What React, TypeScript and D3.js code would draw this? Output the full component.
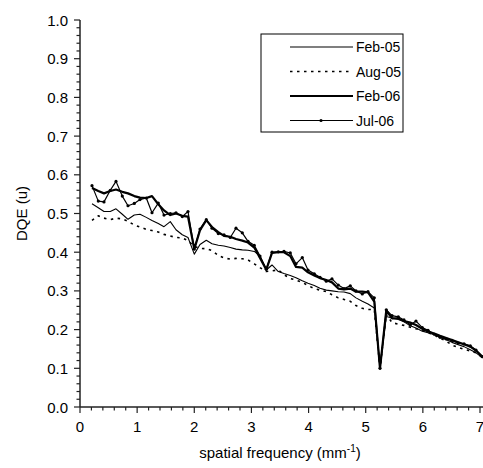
import React, { useEffect, useRef } from "react";
import * as d3 from "d3";

const freq = [0.21,0.32,0.42,0.53,0.63,0.74,0.84,0.95,1.05,1.16,1.26,1.37,1.47,1.58,1.68,1.79,1.89,2.00,2.10,2.21,2.31,2.42,2.52,2.63,2.73,2.84,2.94,3.05,3.15,3.26,3.36,3.47,3.57,3.68,3.78,3.89,3.99,4.10,4.20,4.31,4.41,4.52,4.62,4.73,4.83,4.94,5.04,5.15,5.25,5.36,5.46,5.57,5.67,5.78,5.88,5.99,6.09,6.20,6.30,6.41,6.51,6.62,6.72,6.83,6.93,7.04];

const feb05 = [0.525,0.515,0.505,0.505,0.512,0.498,0.485,0.496,0.498,0.490,0.482,0.474,0.466,0.479,0.458,0.445,0.438,0.395,0.420,0.431,0.422,0.418,0.416,0.412,0.408,0.406,0.405,0.402,0.390,0.354,0.367,0.350,0.345,0.340,0.334,0.326,0.320,0.314,0.307,0.302,0.300,0.298,0.297,0.293,0.282,0.273,0.266,0.256,0.100,0.234,0.230,0.226,0.220,0.210,0.204,0.196,0.192,0.187,0.180,0.174,0.167,0.161,0.156,0.148,0.140,0.128];

const aug05 = [0.482,0.494,0.488,0.484,0.488,0.486,0.480,0.470,0.465,0.459,0.456,0.452,0.446,0.442,0.438,0.437,0.430,0.415,0.410,0.409,0.404,0.392,0.385,0.382,0.384,0.383,0.380,0.370,0.360,0.350,0.352,0.354,0.342,0.332,0.328,0.322,0.314,0.306,0.302,0.298,0.290,0.282,0.278,0.273,0.262,0.255,0.252,0.252,0.100,0.240,0.218,0.214,0.211,0.206,0.202,0.198,0.192,0.186,0.178,0.170,0.160,0.154,0.149,0.145,0.140,0.128];

const feb06 = [0.566,0.558,0.552,0.558,0.562,0.556,0.552,0.545,0.541,0.540,0.545,0.524,0.508,0.496,0.500,0.494,0.492,0.408,0.457,0.483,0.465,0.452,0.442,0.440,0.434,0.430,0.425,0.412,0.385,0.355,0.398,0.400,0.400,0.390,0.362,0.360,0.348,0.340,0.333,0.328,0.322,0.306,0.304,0.306,0.298,0.298,0.296,0.272,0.100,0.250,0.229,0.229,0.222,0.218,0.212,0.202,0.195,0.190,0.184,0.178,0.173,0.167,0.162,0.156,0.146,0.130];

const jul06 = [0.572,0.532,0.530,0.560,0.583,0.545,0.520,0.526,0.536,0.540,0.502,0.527,0.496,0.500,0.502,0.492,0.505,0.408,0.460,0.484,0.462,0.448,0.445,0.438,0.462,0.450,0.428,0.418,0.390,0.356,0.400,0.401,0.402,0.398,0.370,0.386,0.354,0.344,0.335,0.325,0.331,0.315,0.306,0.313,0.300,0.292,0.298,0.282,0.100,0.251,0.236,0.233,0.225,0.212,0.222,0.205,0.198,0.188,0.180,0.176,0.172,0.165,0.163,0.158,0.147,0.130];

const seriesNames = ["Feb-05", "Aug-05", "Feb-06", "Jul-06"];
const xTicks = [0, 1, 2, 3, 4, 5, 6, 7];
const yTicks = [0, 0.1, 0.2, 0.3, 0.4, 0.5, 0.6, 0.7, 0.8, 0.9, 1.0];

const W = 483, H = 468;
const FONT = "'Liberation Sans', Arial, sans-serif";

export default function App() {
  const ref = useRef<SVGSVGElement>(null);
  useEffect(() => {
    const svg = d3.select(ref.current);
    svg.selectAll("*").remove();
    const x = d3.scaleLinear().domain([0, 7]).range([80, 480]);
    const y = d3.scaleLinear().domain([0, 1]).range([407, 20]);

    const series = [
      { name: seriesNames[0], vals: feb05, w: 1.1, dash: null, dots: false },
      { name: seriesNames[1], vals: aug05, w: 1.6, dash: "2.5,4.5", dots: false },
      { name: seriesNames[2], vals: feb06, w: 2.2, dash: null, dots: false },
      { name: seriesNames[3], vals: jul06, w: 1.2, dash: null, dots: true },
    ];

    const line = d3.line<number>().x((_, i) => x(freq[i])).y((d) => y(d));
    const g = svg.append("g");
    series.forEach((s) => {
      g.append("path")
        .attr("d", line(s.vals) as string)
        .attr("fill", "none")
        .attr("stroke", "#000")
        .attr("stroke-width", s.w)
        .attr("stroke-linejoin", "round")
        .attr("stroke-dasharray", s.dash);
      if (s.dots) {
        g.selectAll(null)
          .data(s.vals)
          .enter()
          .append("circle")
          .attr("cx", (_, i) => x(freq[i]))
          .attr("cy", (d) => y(d))
          .attr("r", 1.6)
          .attr("fill", "#000");
      }
    });

    // axes
    const ax = svg.append("g").attr("stroke", "#222").attr("fill", "none");
    ax.append("line").attr("x1", 80).attr("x2", 80).attr("y1", y(1)).attr("y2", y(0)).attr("stroke-width", 1.5);
    ax.append("line").attr("x1", 80).attr("x2", W).attr("y1", y(0)).attr("y2", y(0)).attr("stroke-width", 1.5);
    const yMinor = d3.range(0, 51).map((i) => i * 0.02);
    yMinor.forEach((v, i) => {
      const major = i % 5 === 0;
      ax.append("line").attr("x1", major ? 74 : 76.5).attr("x2", 80).attr("y1", y(v)).attr("y2", y(v)).attr("stroke-width", 1.2);
    });
    const xMinor = d3.range(0, 36).map((i) => i * 0.2);
    xMinor.forEach((v, i) => {
      const major = i % 5 === 0;
      ax.append("line").attr("x1", x(v)).attr("x2", x(v)).attr("y1", y(0)).attr("y2", y(0) + (major ? 6 : 3.5)).attr("stroke-width", 1.2);
    });

    const t = svg.append("g").attr("font-family", FONT).attr("font-size", 15).attr("fill", "#000");
    yTicks.forEach((v) => {
      t.append("text").attr("x", 68).attr("y", y(v) + 5.5).attr("text-anchor", "end").text(v.toFixed(1));
    });
    xTicks.forEach((v) => {
      t.append("text").attr("x", x(v)).attr("y", 432).attr("text-anchor", "middle").text(String(v));
    });
    t.append("text")
      .attr("transform", `translate(27,${y(0.5)}) rotate(-90)`)
      .attr("text-anchor", "middle")
      .text("DQE (u)");
    const xt = t.append("text").attr("x", 280).attr("y", 458).attr("text-anchor", "middle");
    xt.append("tspan").text("spatial frequency (mm");
    xt.append("tspan").attr("dy", -6).attr("font-size", 10).text("-1");
    xt.append("tspan").attr("dy", 6).text(")");

    // legend
    const lg = svg.append("g");
    lg.append("rect").attr("x", 261).attr("y", 34).attr("width", 142).attr("height", 98)
      .attr("fill", "#fff").attr("stroke", "#000").attr("stroke-width", 1);
    series.forEach((s, i) => {
      const yy = 47 + i * 24.5;
      lg.append("line").attr("x1", 290).attr("x2", 353).attr("y1", yy).attr("y2", yy)
        .attr("stroke", "#000").attr("stroke-width", s.w).attr("stroke-dasharray", s.dash);
      if (s.dots) lg.append("circle").attr("cx", 321).attr("cy", yy).attr("r", 1.6).attr("fill", "#000");
      lg.append("text").attr("x", 356).attr("y", yy + 5).attr("font-family", FONT).attr("font-size", 14).text(s.name);
    });
  }, []);
  return (
    <svg ref={ref} width={W} height={H} style={{ display: "block", position: "absolute", left: 0, top: 0, background: "#fff" }} />
  );
}
